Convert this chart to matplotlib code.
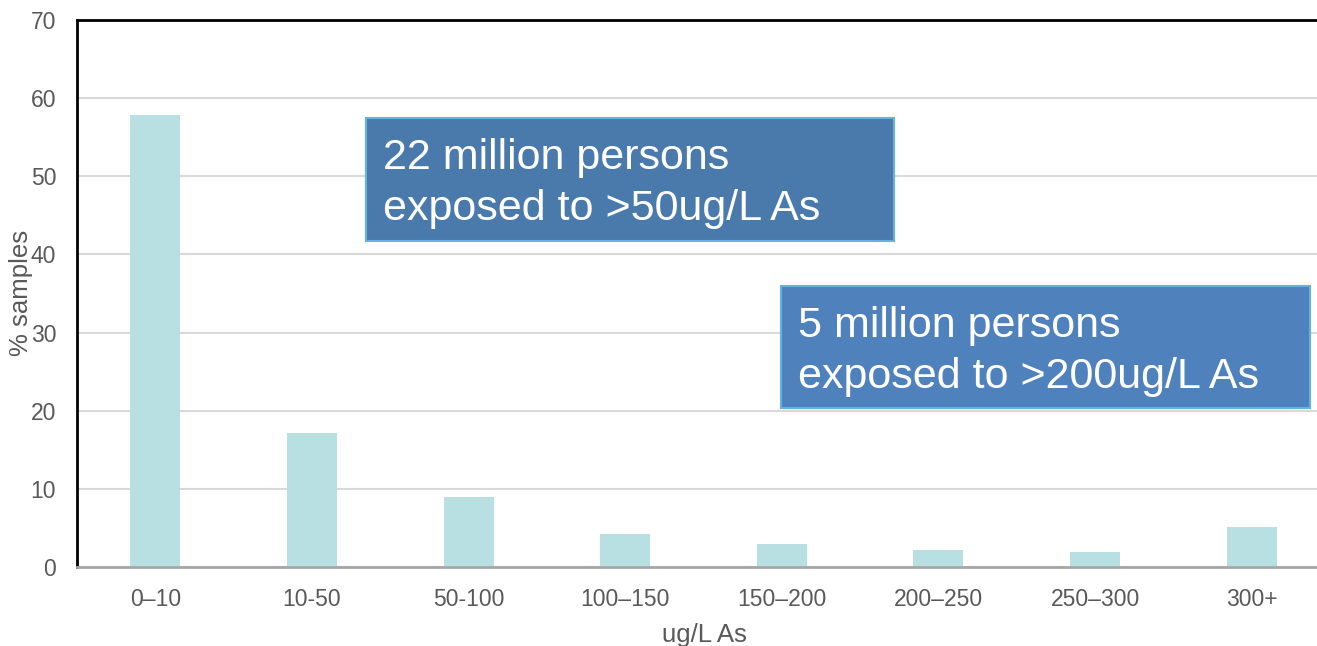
import matplotlib
matplotlib.use("Agg")
import matplotlib.pyplot as plt
from matplotlib.patches import Rectangle

plt.rcParams['font.family'] = ['Liberation Sans', 'DejaVu Sans']

categories = ["0\u201310", "10-50", "50-100", "100\u2013150", "150\u2013200",
              "200\u2013250", "250\u2013300", "300+"]
pct_samples = [57.9, 17.2, 9.0, 4.2, 2.9, 2.2, 1.9, 5.1]
yticks = [0, 10, 20, 30, 40, 50, 60, 70]

W, H = 1317, 646
fig = plt.figure(figsize=(W / 100, H / 100), dpi=100)
left, bottom, top = 77, 79, 626
ax = fig.add_axes([left / W, bottom / H, 1253 / W, (top - bottom) / H])

x = range(len(categories))
ax.bar(x, pct_samples, width=0.32, color="#B8DFE2", zorder=2)

ax.set_xlim(-0.5, len(categories) - 0.5)
ax.set_ylim(0, 70)
ax.set_yticks(yticks)
ax.set_xticks(list(x))
ax.set_xticklabels(categories)
ax.tick_params(axis="both", length=0, labelsize=16.5, colors="#595959")
ax.tick_params(axis="y", pad=15)
ax.tick_params(axis="x", pad=15)
ax.grid(axis="y", color="#D9D9D9", linewidth=1.5, zorder=0)
ax.set_axisbelow(True)

for s in ("top", "left"):
    ax.spines[s].set_color("black")
    ax.spines[s].set_linewidth(2)
ax.spines["right"].set_visible(False)
ax.spines["bottom"].set_color("#A6A6A6")
ax.spines["bottom"].set_linewidth(2)

fig.text(21 / W, 1 - 293 / H, "% samples", rotation=90, ha="center", va="center",
         fontsize=18.5, color="#595959")
fig.text(704 / W, 1 - 642 / H, "ug/L As", ha="center", va="baseline",
         fontsize=18.5, color="#595959")


def callout(x0, y0, x1, y1, face, lines):
    fig.patches.append(Rectangle((x0 / W, 1 - y1 / H), (x1 - x0) / W, (y1 - y0) / H,
                                 transform=fig.transFigure, facecolor=face,
                                 edgecolor="#62B2E4", linewidth=1.5, zorder=5))
    for i, line in enumerate(lines):
        fig.text((x0 + 17) / W, 1 - (y0 + 51 + 51.5 * i) / H, line, ha="left",
                 va="baseline", fontsize=31, color="white", zorder=6)


callout(366, 118, 894, 241, "#4A7AAB", ["22 million persons", "exposed to >50ug/L As"])
callout(781, 286, 1310, 408, "#4F82BD", ["5 million persons", "exposed to >200ug/L As"])

fig.savefig("out.png", dpi=100)
